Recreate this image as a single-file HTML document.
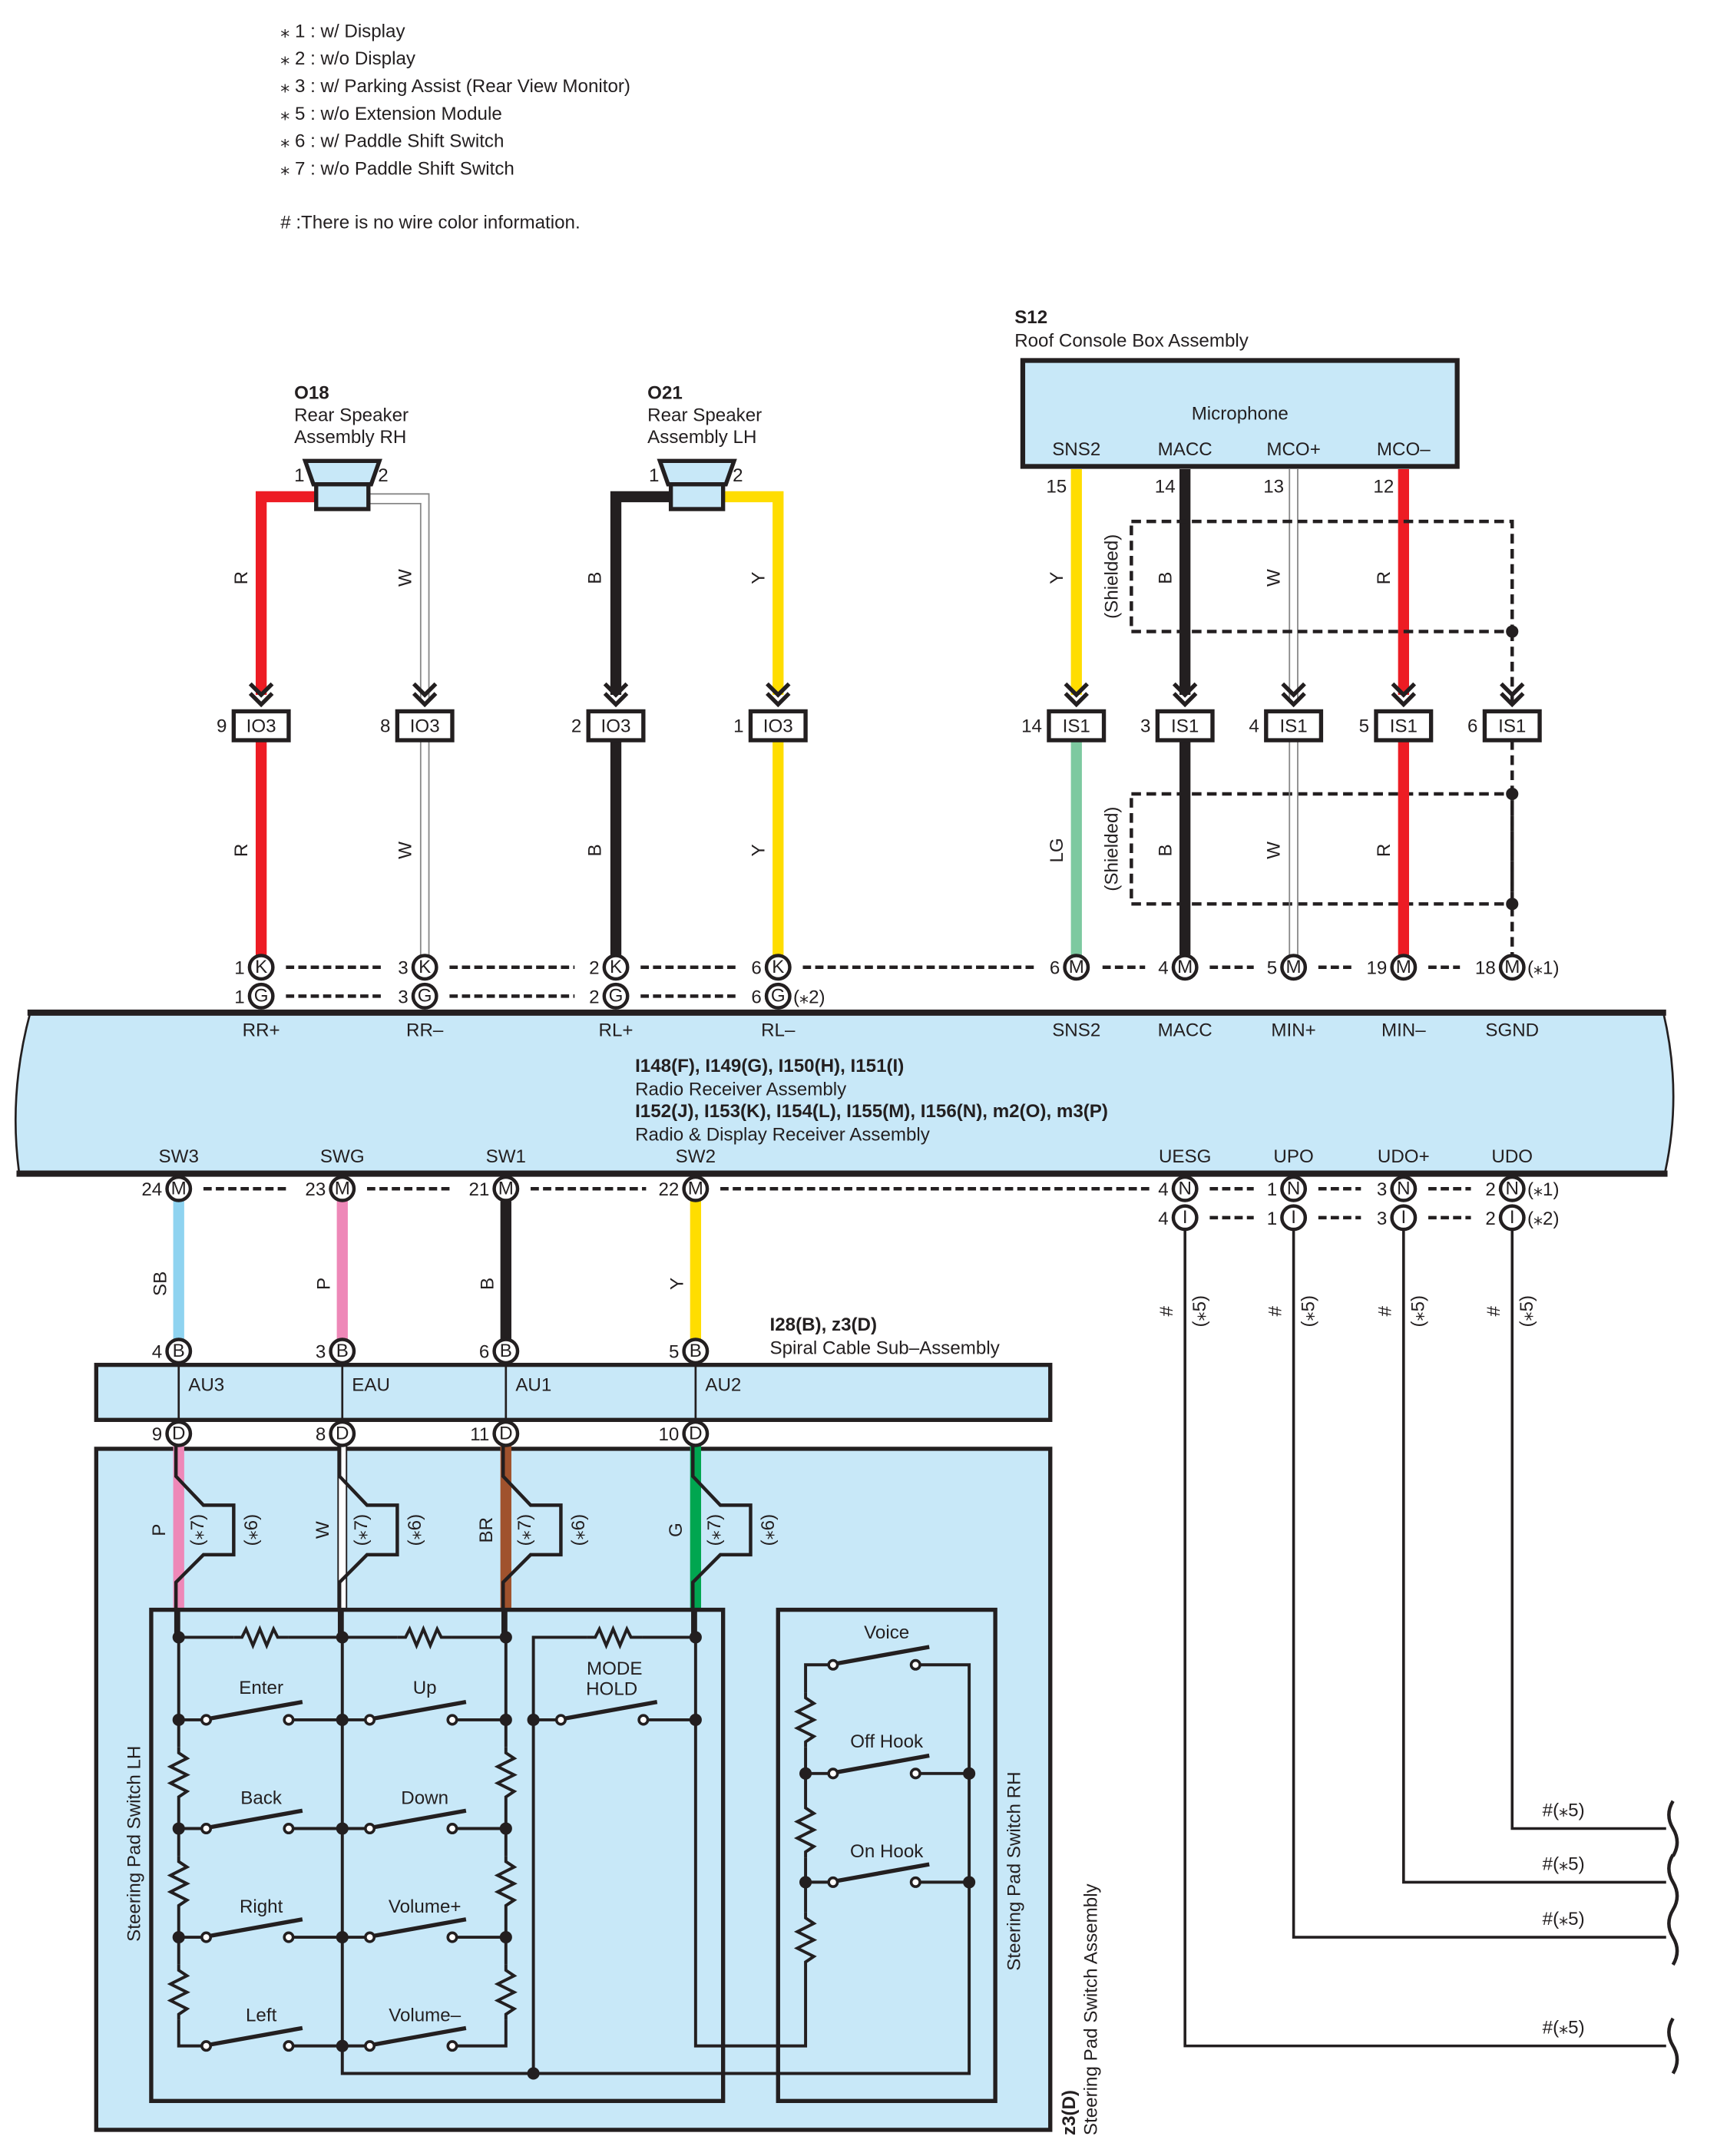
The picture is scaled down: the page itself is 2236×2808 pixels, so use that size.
<!DOCTYPE html>
<html><head><meta charset="utf-8"><style>
html,body{margin:0;padding:0;background:#fff}
svg{display:block}
text{font-family:"Liberation Sans",sans-serif;font-size:13.5px;fill:#231f20}
.b{font-weight:bold}
.c{text-anchor:middle}
.e{text-anchor:end}
</style></head><body>
<svg width="2236" height="2808" viewBox="0 0 1249 1567" preserveAspectRatio="none" xmlns="http://www.w3.org/2000/svg">
<defs>
<g id="chev"><polyline points="-8,-18 0,-10 8,-18" fill="none" stroke="#231f20" stroke-width="3"/><polyline points="-8,-11 0,-3 8,-11" fill="none" stroke="#231f20" stroke-width="3"/></g>
<g id="res"><polyline points="-20,0 -14,0 -11,-6 -6,6 -1,-6 4,6 9,-6 12,0 20,0" fill="none" stroke="#231f20" stroke-width="2.2"/></g>
<g id="vres"><polyline points="0,-20 0,-16 6,-12 -6,-6 6,0 -6,6 6,12 0,16 0,20" fill="none" stroke="#231f20" stroke-width="2.2"/></g>
<g id="sw"><circle cx="0" cy="0" r="3.2" fill="#fff" stroke="#231f20" stroke-width="2"/><circle cx="60" cy="0" r="3.2" fill="#fff" stroke="#231f20" stroke-width="2"/><line x1="3" y1="-1" x2="70" y2="-13" stroke="#231f20" stroke-width="3"/></g>
</defs>
<g stroke-linecap="butt">
<text x="204" y="27">⁎ 1 : w/ Display</text>
<text x="204" y="47">⁎ 2 : w/o Display</text>
<text x="204" y="67">⁎ 3 : w/ Parking Assist (Rear View Monitor)</text>
<text x="204" y="87">⁎ 5 : w/o Extension Module</text>
<text x="204" y="107">⁎ 6 : w/ Paddle Shift Switch</text>
<text x="204" y="127">⁎ 7 : w/o Paddle Shift Switch</text>
<text x="204" y="166"># :There is no wire color information.</text>

<text x="214" y="290" class="b">O18</text><text x="214" y="306">Rear Speaker</text><text x="214" y="322">Assembly RH</text>
<text x="471" y="290" class="b">O21</text><text x="471" y="306">Rear Speaker</text><text x="471" y="322">Assembly LH</text>

<path d="M232 361 H190 V505" fill="none" stroke="#ed1c24" stroke-width="8"/>
<path d="M268 359 H312 V510 M268 366 H306 V510" fill="none" stroke="#888" stroke-width="1"/>
<path d="M490 361 H448 V505" fill="none" stroke="#231f20" stroke-width="8"/>
<path d="M526 361 H566 V505" fill="none" stroke="#ffdd00" stroke-width="8"/>
<g fill="#c8e8f8" stroke="#231f20" stroke-width="3">
<polygon points="222,335 276,335 270,352 228,352"/><rect x="230" y="352" width="38" height="18"/>
<polygon points="480,335 534,335 528,352 486,352"/><rect x="488" y="352" width="38" height="18"/>
</g>
<text x="214" y="350">1</text><text x="275" y="350">2</text>
<text x="472" y="350">1</text><text x="533" y="350">2</text>
<g font-size="13">
<text transform="translate(180,420) rotate(-90)" class="c">R</text>
<text transform="translate(299,420) rotate(-90)" class="c">W</text>
<text transform="translate(437,420) rotate(-90)" class="c">B</text>
<text transform="translate(556,420) rotate(-90)" class="c">Y</text>
<text transform="translate(180,618) rotate(-90)" class="c">R</text>
<text transform="translate(299,618) rotate(-90)" class="c">W</text>
<text transform="translate(437,618) rotate(-90)" class="c">B</text>
<text transform="translate(556,618) rotate(-90)" class="c">Y</text>
</g>

<text x="738" y="235" class="b">S12</text><text x="738" y="252">Roof Console Box Assembly</text>
<rect x="744" y="262" width="316" height="77" fill="#c8e8f8" stroke="#231f20" stroke-width="3.5"/>
<text x="902" y="305" class="c">Microphone</text>
<text x="783" y="331" class="c">SNS2</text><text x="862" y="331" class="c">MACC</text><text x="941" y="331" class="c">MCO+</text><text x="1021" y="331" class="c">MCO–</text>
<line x1="783" y1="341" x2="783" y2="505" stroke="#ffdd00" stroke-width="8"/>
<line x1="862" y1="341" x2="862" y2="505" stroke="#231f20" stroke-width="8"/>
<path d="M938 341 V510 M944 341 V510" stroke="#888" stroke-width="1"/>
<line x1="1021" y1="341" x2="1021" y2="505" stroke="#ed1c24" stroke-width="8"/>
<text x="776" y="358" class="e">15</text><text x="855" y="358" class="e">14</text><text x="934" y="358" class="e">13</text><text x="1014" y="358" class="e">12</text>
<rect x="823" y="379" width="277" height="80" fill="none" stroke="#231f20" stroke-width="2.5" stroke-dasharray="7 4"/>
<rect x="823" y="577" width="277" height="80" fill="none" stroke="#231f20" stroke-width="2.5" stroke-dasharray="7 4"/>
<line x1="1100" y1="459" x2="1100" y2="510" stroke="#231f20" stroke-width="2.5" stroke-dasharray="7 4"/>
<line x1="1100" y1="538" x2="1100" y2="694" stroke="#231f20" stroke-width="2.5" stroke-dasharray="7 4"/>
<circle cx="1100" cy="459" r="4.5" fill="#231f20"/><circle cx="1100" cy="577" r="4.5" fill="#231f20"/><circle cx="1100" cy="657" r="4.5" fill="#231f20"/>
<g font-size="13">
<text transform="translate(813,419) rotate(-90)" class="c">(Shielded)</text>
<text transform="translate(813,617) rotate(-90)" class="c">(Shielded)</text>
<text transform="translate(773,420) rotate(-90)" class="c">Y</text>
<text transform="translate(852,420) rotate(-90)" class="c">B</text>
<text transform="translate(931,420) rotate(-90)" class="c">W</text>
<text transform="translate(1011,420) rotate(-90)" class="c">R</text>
<text transform="translate(773,618) rotate(-90)" class="c">LG</text>
<text transform="translate(852,618) rotate(-90)" class="c">B</text>
<text transform="translate(931,618) rotate(-90)" class="c">W</text>
<text transform="translate(1011,618) rotate(-90)" class="c">R</text>
</g>

<line x1="190" y1="538" x2="190" y2="694" stroke="#ed1c24" stroke-width="8"/>
<path d="M306 538 V694 M312 538 V694" stroke="#888" stroke-width="1"/>
<line x1="448" y1="538" x2="448" y2="694" stroke="#231f20" stroke-width="8"/>
<line x1="566" y1="538" x2="566" y2="694" stroke="#ffdd00" stroke-width="8"/>
<line x1="783" y1="538" x2="783" y2="694" stroke="#7dc9a0" stroke-width="8"/>
<line x1="862" y1="538" x2="862" y2="694" stroke="#231f20" stroke-width="8"/>
<path d="M938 538 V694 M944 538 V694" stroke="#888" stroke-width="1"/>
<line x1="1021" y1="538" x2="1021" y2="694" stroke="#ed1c24" stroke-width="8"/>

<g>
<use href="#chev" x="190" y="515"/><use href="#chev" x="309" y="515"/><use href="#chev" x="448" y="515"/><use href="#chev" x="566" y="515"/>
<use href="#chev" x="783" y="515"/><use href="#chev" x="862" y="515"/><use href="#chev" x="941" y="515"/><use href="#chev" x="1021" y="515"/><use href="#chev" x="1100" y="515"/>
</g>
<g fill="#fff" stroke="#231f20" stroke-width="3">
<rect x="170" y="517" width="40" height="21"/><rect x="289" y="517" width="40" height="21"/><rect x="428" y="517" width="40" height="21"/><rect x="546" y="517" width="40" height="21"/>
<rect x="763" y="517" width="40" height="21"/><rect x="842" y="517" width="40" height="21"/><rect x="921" y="517" width="40" height="21"/><rect x="1001" y="517" width="40" height="21"/><rect x="1080" y="517" width="40" height="21"/>
</g>
<g>
<text x="190" y="532" class="c">IO3</text><text x="309" y="532" class="c">IO3</text><text x="448" y="532" class="c">IO3</text><text x="566" y="532" class="c">IO3</text>
<text x="783" y="532" class="c">IS1</text><text x="862" y="532" class="c">IS1</text><text x="941" y="532" class="c">IS1</text><text x="1021" y="532" class="c">IS1</text><text x="1100" y="532" class="c">IS1</text>
</g>
<text x="165" y="532" class="e">9</text><text x="284" y="532" class="e">8</text><text x="423" y="532" class="e">2</text><text x="541" y="532" class="e">1</text>
<text x="758" y="532" class="e">14</text><text x="837" y="532" class="e">3</text><text x="916" y="532" class="e">4</text><text x="996" y="532" class="e">5</text><text x="1075" y="532" class="e">6</text>

<g stroke="#231f20" stroke-width="2.5" stroke-dasharray="6 3">
<line x1="208" y1="703" x2="280" y2="703"/><line x1="327" y1="703" x2="418" y2="703"/><line x1="466" y1="703" x2="537" y2="703"/><line x1="584" y1="703" x2="754" y2="703"/>
<line x1="802" y1="703" x2="833" y2="703"/><line x1="880" y1="703" x2="912" y2="703"/><line x1="959" y1="703" x2="985" y2="703"/><line x1="1039" y1="703" x2="1062" y2="703"/>
<line x1="208" y1="724" x2="280" y2="724"/><line x1="327" y1="724" x2="418" y2="724"/><line x1="466" y1="724" x2="537" y2="724"/>
</g>
<g fill="#fff" stroke="#231f20" stroke-width="2.5">
<circle cx="190" cy="703" r="8.5"/><circle cx="309" cy="703" r="8.5"/><circle cx="448" cy="703" r="8.5"/><circle cx="566" cy="703" r="8.5"/>
<circle cx="190" cy="724" r="8.5"/><circle cx="309" cy="724" r="8.5"/><circle cx="448" cy="724" r="8.5"/><circle cx="566" cy="724" r="8.5"/>
<circle cx="783" cy="703" r="8.5"/><circle cx="862" cy="703" r="8.5"/><circle cx="941" cy="703" r="8.5"/><circle cx="1021" cy="703" r="8.5"/><circle cx="1100" cy="703" r="8.5"/>
</g>
<g font-size="11">
<text x="190" y="707" class="c">K</text><text x="309" y="707" class="c">K</text><text x="448" y="707" class="c">K</text><text x="566" y="707" class="c">K</text>
<text x="190" y="728" class="c">G</text><text x="309" y="728" class="c">G</text><text x="448" y="728" class="c">G</text><text x="566" y="728" class="c">G</text>
<text x="783" y="707" class="c">M</text><text x="862" y="707" class="c">M</text><text x="941" y="707" class="c">M</text><text x="1021" y="707" class="c">M</text><text x="1100" y="707" class="c">M</text>
</g>
<text x="178" y="708" class="e">1</text><text x="297" y="708" class="e">3</text><text x="436" y="708" class="e">2</text><text x="554" y="708" class="e">6</text>
<text x="178" y="729" class="e">1</text><text x="297" y="729" class="e">3</text><text x="436" y="729" class="e">2</text><text x="554" y="729" class="e">6</text>
<text x="577" y="729">(⁎2)</text>
<text x="771" y="708" class="e">6</text><text x="850" y="708" class="e">4</text><text x="929" y="708" class="e">5</text><text x="1009" y="708" class="e">19</text><text x="1088" y="708" class="e">18</text>
<text x="1111" y="708">(⁎1)</text>

<path d="M22 736 H1210 Q1224 795 1211 853 H14 Q6 795 22 736 Z" fill="#c8e8f8" stroke="#231f20" stroke-width="1.5"/>
<line x1="20" y1="736" x2="1212" y2="736" stroke="#231f20" stroke-width="4.5"/>
<line x1="12" y1="853" x2="1213" y2="853" stroke="#231f20" stroke-width="4.5"/>
<text x="190" y="753" class="c">RR+</text><text x="309" y="753" class="c">RR–</text><text x="448" y="753" class="c">RL+</text><text x="566" y="753" class="c">RL–</text>
<text x="783" y="753" class="c">SNS2</text><text x="862" y="753" class="c">MACC</text><text x="941" y="753" class="c">MIN+</text><text x="1021" y="753" class="c">MIN–</text><text x="1100" y="753" class="c">SGND</text>
<text x="462" y="779" class="b">I148(F), I149(G), I150(H), I151(I)</text>
<text x="462" y="796">Radio Receiver Assembly</text>
<text x="462" y="812" class="b">I152(J), I153(K), I154(L), I155(M), I156(N), m2(O), m3(P)</text>
<text x="462" y="829">Radio &amp; Display Receiver Assembly</text>
<text x="130" y="845" class="c">SW3</text><text x="249" y="845" class="c">SWG</text><text x="368" y="845" class="c">SW1</text><text x="506" y="845" class="c">SW2</text>
<text x="862" y="845" class="c">UESG</text><text x="941" y="845" class="c">UPO</text><text x="1021" y="845" class="c">UDO+</text><text x="1100" y="845" class="c">UDO</text>

<g stroke="#231f20" stroke-width="2.5" stroke-dasharray="6 3">
<line x1="148" y1="864" x2="208" y2="864"/><line x1="267" y1="864" x2="330" y2="864"/><line x1="386" y1="864" x2="470" y2="864"/><line x1="524" y1="864" x2="836" y2="864"/>
<line x1="880" y1="864" x2="912" y2="864"/><line x1="959" y1="864" x2="990" y2="864"/><line x1="1039" y1="864" x2="1070" y2="864"/>
<line x1="880" y1="885" x2="912" y2="885"/><line x1="959" y1="885" x2="990" y2="885"/><line x1="1039" y1="885" x2="1070" y2="885"/>
</g>
<g fill="none" stroke="#231f20" stroke-width="2">
<path d="M862 894 V1487 H1212"/><path d="M941 894 V1408 H1212"/><path d="M1021 894 V1368 H1212"/><path d="M1100 894 V1329 H1212"/>
<path d="M1217 1309 q-6 10 0 20 q6 10 0 20 M1217 1348 q-6 10 0 20 q6 10 0 20 M1217 1388 q-6 10 0 20 q6 10 0 20 M1217 1467 q-6 10 0 20 q6 10 0 20" stroke-width="2.5"/>
</g>
<g>
<text x="1122" y="1320">#(⁎5)</text><text x="1122" y="1359">#(⁎5)</text><text x="1122" y="1399">#(⁎5)</text><text x="1122" y="1478">#(⁎5)</text>
<text transform="translate(853,953) rotate(-90)" class="c">#</text><text transform="translate(877,953) rotate(-90)" class="c">(⁎5)</text>
<text transform="translate(932,953) rotate(-90)" class="c">#</text><text transform="translate(956,953) rotate(-90)" class="c">(⁎5)</text>
<text transform="translate(1012,953) rotate(-90)" class="c">#</text><text transform="translate(1036,953) rotate(-90)" class="c">(⁎5)</text>
<text transform="translate(1091,953) rotate(-90)" class="c">#</text><text transform="translate(1115,953) rotate(-90)" class="c">(⁎5)</text>
</g>
<line x1="130" y1="873" x2="130" y2="974" stroke="#8fd3f0" stroke-width="8"/>
<line x1="249" y1="873" x2="249" y2="974" stroke="#ee88b8" stroke-width="8"/>
<line x1="368" y1="873" x2="368" y2="974" stroke="#231f20" stroke-width="8"/>
<line x1="506" y1="873" x2="506" y2="974" stroke="#ffdd00" stroke-width="8"/>
<g font-size="13">
<text transform="translate(121,933) rotate(-90)" class="c">SB</text>
<text transform="translate(240,933) rotate(-90)" class="c">P</text>
<text transform="translate(359,933) rotate(-90)" class="c">B</text>
<text transform="translate(497,933) rotate(-90)" class="c">Y</text>
</g>
<g fill="#fff" stroke="#231f20" stroke-width="2.5">
<circle cx="130" cy="864" r="8.5"/><circle cx="249" cy="864" r="8.5"/><circle cx="368" cy="864" r="8.5"/><circle cx="506" cy="864" r="8.5"/>
<circle cx="862" cy="864" r="8.5"/><circle cx="941" cy="864" r="8.5"/><circle cx="1021" cy="864" r="8.5"/><circle cx="1100" cy="864" r="8.5"/>
<circle cx="862" cy="885" r="8.5"/><circle cx="941" cy="885" r="8.5"/><circle cx="1021" cy="885" r="8.5"/><circle cx="1100" cy="885" r="8.5"/>
</g>
<g font-size="11">
<text x="130" y="868" class="c">M</text><text x="249" y="868" class="c">M</text><text x="368" y="868" class="c">M</text><text x="506" y="868" class="c">M</text>
<text x="862" y="868" class="c">N</text><text x="941" y="868" class="c">N</text><text x="1021" y="868" class="c">N</text><text x="1100" y="868" class="c">N</text>
<text x="862" y="889" class="c">I</text><text x="941" y="889" class="c">I</text><text x="1021" y="889" class="c">I</text><text x="1100" y="889" class="c">I</text>
</g>
<text x="118" y="869" class="e">24</text><text x="237" y="869" class="e">23</text><text x="356" y="869" class="e">21</text><text x="494" y="869" class="e">22</text>
<text x="850" y="869" class="e">4</text><text x="929" y="869" class="e">1</text><text x="1009" y="869" class="e">3</text><text x="1088" y="869" class="e">2</text>
<text x="850" y="890" class="e">4</text><text x="929" y="890" class="e">1</text><text x="1009" y="890" class="e">3</text><text x="1088" y="890" class="e">2</text>
<text x="1111" y="869">(⁎1)</text><text x="1111" y="890">(⁎2)</text>

<text x="560" y="967" class="b">I28(B), z3(D)</text><text x="560" y="984">Spiral Cable Sub–Assembly</text>
<rect x="70" y="992" width="694" height="40" fill="#c8e8f8" stroke="#231f20" stroke-width="3"/>
<g stroke="#231f20" stroke-width="1.5"><line x1="130" y1="990" x2="130" y2="1034"/><line x1="249" y1="990" x2="249" y2="1034"/><line x1="368" y1="990" x2="368" y2="1034"/><line x1="506" y1="990" x2="506" y2="1034"/></g>
<text x="137" y="1011">AU3</text><text x="256" y="1011">EAU</text><text x="375" y="1011">AU1</text><text x="513" y="1011">AU2</text>

<rect x="70" y="1053" width="694" height="495" fill="#c8e8f8" stroke="#231f20" stroke-width="3"/>
<line x1="130" y1="1050" x2="130" y2="1170" stroke="#ee88b8" stroke-width="8"/>
<path d="M246 1050 V1170 M252 1050 V1170" stroke="#231f20" stroke-width="1.2"/><rect x="246.5" y="1050" width="5" height="120" fill="#fff"/>
<line x1="368" y1="1050" x2="368" y2="1170" stroke="#a0522d" stroke-width="8"/>
<line x1="506" y1="1050" x2="506" y2="1170" stroke="#00a650" stroke-width="8"/>
<g fill="none" stroke="#231f20" stroke-width="2.5">
<path d="M128 1050 V1073 L148 1094 H170 V1130 H148 L128 1150 V1190"/>
<path d="M247 1050 V1073 L267 1094 H289 V1130 H267 L247 1150 V1190"/>
<path d="M366 1050 V1073 L386 1094 H408 V1130 H386 L366 1150 V1190"/>
<path d="M504 1050 V1073 L524 1094 H546 V1130 H524 L504 1150 V1190"/>
</g>
<g font-size="13">
<text transform="translate(120,1112) rotate(-90)" class="c">P</text><text transform="translate(148,1112) rotate(-90)" class="c">(⁎7)</text><text transform="translate(187,1112) rotate(-90)" class="c">(⁎6)</text>
<text transform="translate(239,1112) rotate(-90)" class="c">W</text><text transform="translate(267,1112) rotate(-90)" class="c">(⁎7)</text><text transform="translate(306,1112) rotate(-90)" class="c">(⁎6)</text>
<text transform="translate(358,1112) rotate(-90)" class="c">BR</text><text transform="translate(386,1112) rotate(-90)" class="c">(⁎7)</text><text transform="translate(425,1112) rotate(-90)" class="c">(⁎6)</text>
<text transform="translate(496,1112) rotate(-90)" class="c">G</text><text transform="translate(524,1112) rotate(-90)" class="c">(⁎7)</text><text transform="translate(563,1112) rotate(-90)" class="c">(⁎6)</text>
</g>
<g fill="#fff" stroke="#231f20" stroke-width="2.5">
<circle cx="130" cy="982" r="8.5"/><circle cx="249" cy="982" r="8.5"/><circle cx="368" cy="982" r="8.5"/><circle cx="506" cy="982" r="8.5"/>
<circle cx="130" cy="1042" r="8.5"/><circle cx="249" cy="1042" r="8.5"/><circle cx="368" cy="1042" r="8.5"/><circle cx="506" cy="1042" r="8.5"/>
</g>
<g font-size="11">
<text x="130" y="986" class="c">B</text><text x="249" y="986" class="c">B</text><text x="368" y="986" class="c">B</text><text x="506" y="986" class="c">B</text>
<text x="130" y="1046" class="c">D</text><text x="249" y="1046" class="c">D</text><text x="368" y="1046" class="c">D</text><text x="506" y="1046" class="c">D</text>
</g>
<text x="118" y="987" class="e">4</text><text x="237" y="987" class="e">3</text><text x="356" y="987" class="e">6</text><text x="494" y="987" class="e">5</text>
<text x="118" y="1047" class="e">9</text><text x="237" y="1047" class="e">8</text><text x="356" y="1047" class="e">11</text><text x="494" y="1047" class="e">10</text>

<rect x="110" y="1170" width="416" height="357" fill="none" stroke="#231f20" stroke-width="3"/>
<rect x="566" y="1170" width="158" height="357" fill="none" stroke="#231f20" stroke-width="3"/>
<g fill="none" stroke="#231f20" stroke-width="2.2">
<path d="M130 1170 V1270 M130 1310 V1349 M130 1389 V1428 M130 1468 V1487 H150"/>
<path d="M249 1170 V1507 H705 V1210 H666"/>
<path d="M368 1170 V1270 M368 1310 V1349 M368 1389 V1428 M368 1468 V1487 H329"/>
<path d="M388 1507 V1190 H427 M467 1190 H506 M506 1170 V1487 H586 V1430 M586 1390 V1350 M586 1310 V1270 M586 1230 V1210 H606"/>
<path d="M130 1190 H170 M210 1190 H289 M329 1190 H368"/>
<path d="M130 1250 H150 M210 1250 H269 M329 1250 H368 M388 1250 H408 M468 1250 H506"/>
<path d="M130 1329 H150 M210 1329 H269 M329 1329 H368"/>
<path d="M130 1408 H150 M210 1408 H269 M329 1408 H368"/>
<path d="M210 1487 H269"/>
<path d="M586 1289 H606 M666 1289 H705 M586 1368 H606 M666 1368 H705"/>
</g>
<g>
<use href="#res" x="190" y="1190"/><use href="#res" x="309" y="1190"/><use href="#res" x="447" y="1190"/>
<use href="#vres" x="130" y="1290"/><use href="#vres" x="130" y="1369"/><use href="#vres" x="130" y="1448"/>
<use href="#vres" x="368" y="1290"/><use href="#vres" x="368" y="1369"/><use href="#vres" x="368" y="1448"/>
<use href="#vres" x="586" y="1250"/><use href="#vres" x="586" y="1330"/><use href="#vres" x="586" y="1410"/>
<use href="#sw" x="150" y="1250"/><use href="#sw" x="269" y="1250"/><use href="#sw" x="408" y="1250"/>
<use href="#sw" x="150" y="1329"/><use href="#sw" x="269" y="1329"/>
<use href="#sw" x="150" y="1408"/><use href="#sw" x="269" y="1408"/>
<use href="#sw" x="150" y="1487"/><use href="#sw" x="269" y="1487"/>
<use href="#sw" x="606" y="1210"/><use href="#sw" x="606" y="1289"/><use href="#sw" x="606" y="1368"/>
</g>
<g fill="#231f20">
<circle cx="130" cy="1190" r="4.5"/><circle cx="249" cy="1190" r="4.5"/><circle cx="368" cy="1190" r="4.5"/><circle cx="506" cy="1190" r="4.5"/>
<circle cx="130" cy="1250" r="4.5"/><circle cx="249" cy="1250" r="4.5"/><circle cx="368" cy="1250" r="4.5"/><circle cx="388" cy="1250" r="4.5"/><circle cx="506" cy="1250" r="4.5"/>
<circle cx="130" cy="1329" r="4.5"/><circle cx="249" cy="1329" r="4.5"/><circle cx="368" cy="1329" r="4.5"/>
<circle cx="130" cy="1408" r="4.5"/><circle cx="249" cy="1408" r="4.5"/><circle cx="368" cy="1408" r="4.5"/>
<circle cx="249" cy="1487" r="4.5"/><circle cx="388" cy="1507" r="4.5"/>
<circle cx="586" cy="1289" r="4.5"/><circle cx="705" cy="1289" r="4.5"/><circle cx="586" cy="1368" r="4.5"/><circle cx="705" cy="1368" r="4.5"/>
</g>
<text x="190" y="1231" class="c">Enter</text><text x="309" y="1231" class="c">Up</text>
<text x="447" y="1217" class="c">MODE</text><text x="445" y="1232" class="c">HOLD</text>
<text x="190" y="1311" class="c">Back</text><text x="309" y="1311" class="c">Down</text>
<text x="190" y="1390" class="c">Right</text><text x="309" y="1390" class="c">Volume+</text>
<text x="190" y="1469" class="c">Left</text><text x="309" y="1469" class="c">Volume–</text>
<text x="645" y="1191" class="c">Voice</text><text x="645" y="1270" class="c">Off Hook</text><text x="645" y="1350" class="c">On Hook</text>
<text transform="translate(102,1340) rotate(-90)" class="c">Steering Pad Switch LH</text>
<text transform="translate(742,1360) rotate(-90)" class="c">Steering Pad Switch RH</text>
<text transform="translate(782,1552) rotate(-90)" class="b">z3(D)</text>
<text transform="translate(798,1552) rotate(-90)">Steering Pad Switch Assembly</text>
</g>
</svg>
</body></html>
